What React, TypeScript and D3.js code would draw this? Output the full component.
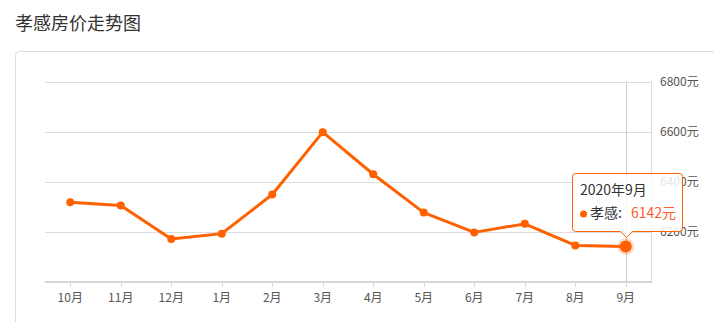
import React from "react";
import * as d3 from "d3";

const months = ["10月", "11月", "12月", "1月", "2月", "3月", "4月", "5月", "6月", "7月", "8月", "9月"];
const prices = [6318, 6305, 6172, 6193, 6349, 6598, 6430, 6277, 6198, 6232, 6146, 6142];
const yTicks = [6200, 6400, 6600, 6800];
const title = "孝感房价走势图";
const seriesName = "孝感";
const tooltipTitle = "2020年9月";
const activeIndex = 11;

const W = 714;
const H = 322;
const FONT = "'Noto Sans CJK SC', 'Noto Sans', sans-serif";
const ORANGE = "#ff6000";

export default function App() {
  const x = d3.scaleBand<string>().domain(months).range([45, 651]);
  const y = d3.scaleLinear().domain([6000, 6800]).range([282, 81.5]);
  const cx = (m: string) => (x(m) as number) + x.bandwidth() / 2;
  const pts: [number, number][] = months.map((m, i) => [cx(m), y(prices[i])]);
  const line = d3.line<[number, number]>().x((d) => d[0]).y((d) => d[1]);
  const ax = pts[activeIndex][0];
  const ay = pts[activeIndex][1];
  const left = 45;
  const right = 651;
  const bottom = y(6000);
  const top = y(6800);

  const tbL = 572.5, tbR = 682.5, tbT = 173.5, tbB = 231.5;
  const tipX = Math.round(ax) + 0.5;
  const tooltipPath = `M${tbL + 3},${tbT} H${tbR - 3} Q${tbR},${tbT} ${tbR},${tbT + 3} V${tbB - 3} Q${tbR},${tbB} ${tbR - 3},${tbB} H${tipX + 6} L${tipX},${tbB + 6} L${tipX - 6},${tbB} H${tbL + 3} Q${tbL},${tbB} ${tbL},${tbB - 3} V${tbT + 3} Q${tbL},${tbT} ${tbL + 3},${tbT} Z`;

  return (
    <svg width={W} height={H} style={{ position: "absolute", left: 0, top: 0, fontFamily: FONT }}>
      <rect x={0} y={0} width={W} height={H} fill="#fff" />
      <text x={15} y={30} fontSize={18} fill="#333">{title}</text>
      <rect x={15.5} y={51.5} width={740} height={320} rx={4} fill="none" stroke="#ddd" />

      {yTicks.map((t) => (
        <line key={t} x1={left} x2={right} y1={Math.round(y(t)) + 0.5} y2={Math.round(y(t)) + 0.5} stroke="#ddd" />
      ))}
      <line x1={right + 0.5} x2={right + 0.5} y1={top} y2={bottom} stroke="#ddd" />
      <line x1={Math.round(ax) + 0.5} x2={Math.round(ax) + 0.5} y1={top} y2={bottom} stroke="#ccc" />
      <line x1={left} x2={right + 1} y1={bottom} y2={bottom} stroke="#d6d6d6" strokeWidth={2} />
      {months.map((m) => (
        <line key={m} x1={Math.round(cx(m)) + 0.5} x2={Math.round(cx(m)) + 0.5} y1={bottom} y2={bottom + 5} stroke="#d6d6d6" />
      ))}
      {months.map((m) => (
        <text key={m} x={cx(m)} y={302} fontSize={12} fill="#555" textAnchor="middle">{m}</text>
      ))}
      {yTicks.map((t) => (
        <text key={t} x={660} y={y(t) + 4} fontSize={12} fill="#555">{t}元</text>
      ))}

      <path d={line(pts) || ""} fill="none" stroke={ORANGE} strokeWidth={3} strokeLinejoin="round" />
      {pts.map((p, i) =>
        i === activeIndex ? null : <circle key={i} cx={p[0]} cy={p[1]} r={4} fill={ORANGE} />
      )}
      <circle cx={ax} cy={ay} r={8.5} fill={ORANGE} opacity={0.22} />
      <circle cx={ax} cy={ay} r={6} fill={ORANGE} />

      <path d={tooltipPath} fill="rgba(255,255,255,0.85)" stroke={ORANGE} strokeWidth={1} />
      <text x={580} y={195} fontSize={14} fill="#333">{tooltipTitle}</text>
      <circle cx={583.5} cy={214} r={3.5} fill={ORANGE} />
      <text x={590} y={218} fontSize={14} fill="#333">{seriesName}:</text>
      <text x={631} y={218} fontSize={14} fill="#ff5a2e">{prices[activeIndex]}元</text>
    </svg>
  );
}
